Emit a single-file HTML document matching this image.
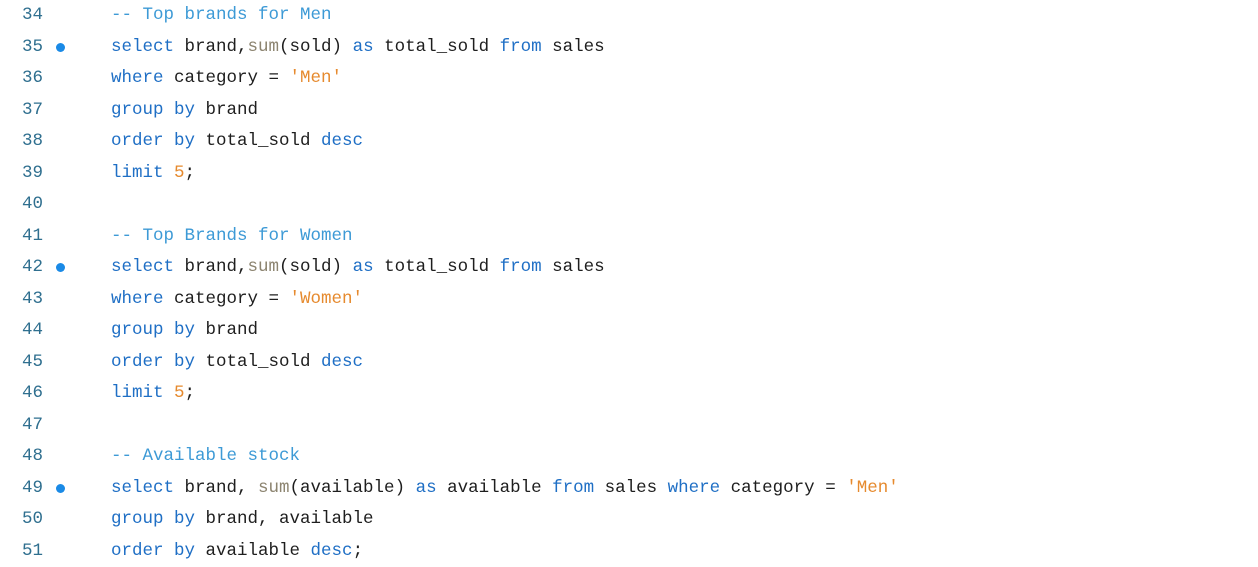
<!DOCTYPE html>
<html><head><style>
body{margin:0;width:1258px;height:567px;background:#fff;overflow:hidden;font-family:"Liberation Mono",monospace;font-size:17.5px;}
.l{position:absolute;left:0;height:31.5px;line-height:31.5px;white-space:pre;}
.n{position:absolute;left:22px;color:#2f6f8f;}
.c{position:absolute;left:111px;color:#1e1e1e;}
.d{position:absolute;left:56px;top:11px;width:9px;height:9px;border-radius:50%;background:#1a8ae6;}
.k{color:#1f6fc5;}
.cm{color:#3d9ad6;}
.f{color:#8c8470;}
.s{color:#e68a2e;}
</style></head><body>
<div class="l" style="top:0px"><span class="n">34</span><span class="c"><span class="cm">-- Top brands for Men</span></span></div>
<div class="l" style="top:31.5px"><span class="n">35</span><span class="d"></span><span class="c"><span class="k">select</span> brand,<span class="f">sum</span>(sold) <span class="k">as</span> total_sold <span class="k">from</span> sales</span></div>
<div class="l" style="top:63px"><span class="n">36</span><span class="c"><span class="k">where</span> category = <span class="s">'Men'</span></span></div>
<div class="l" style="top:94.5px"><span class="n">37</span><span class="c"><span class="k">group by</span> brand</span></div>
<div class="l" style="top:126px"><span class="n">38</span><span class="c"><span class="k">order by</span> total_sold <span class="k">desc</span></span></div>
<div class="l" style="top:157.5px"><span class="n">39</span><span class="c"><span class="k">limit</span> <span class="s">5</span>;</span></div>
<div class="l" style="top:189px"><span class="n">40</span></div>
<div class="l" style="top:220.5px"><span class="n">41</span><span class="c"><span class="cm">-- Top Brands for Women</span></span></div>
<div class="l" style="top:252px"><span class="n">42</span><span class="d"></span><span class="c"><span class="k">select</span> brand,<span class="f">sum</span>(sold) <span class="k">as</span> total_sold <span class="k">from</span> sales</span></div>
<div class="l" style="top:283.5px"><span class="n">43</span><span class="c"><span class="k">where</span> category = <span class="s">'Women'</span></span></div>
<div class="l" style="top:315px"><span class="n">44</span><span class="c"><span class="k">group by</span> brand</span></div>
<div class="l" style="top:346.5px"><span class="n">45</span><span class="c"><span class="k">order by</span> total_sold <span class="k">desc</span></span></div>
<div class="l" style="top:378px"><span class="n">46</span><span class="c"><span class="k">limit</span> <span class="s">5</span>;</span></div>
<div class="l" style="top:409.5px"><span class="n">47</span></div>
<div class="l" style="top:441px"><span class="n">48</span><span class="c"><span class="cm">-- Available stock</span></span></div>
<div class="l" style="top:472.5px"><span class="n">49</span><span class="d"></span><span class="c"><span class="k">select</span> brand, <span class="f">sum</span>(available) <span class="k">as</span> available <span class="k">from</span> sales <span class="k">where</span> category = <span class="s">'Men'</span></span></div>
<div class="l" style="top:504px"><span class="n">50</span><span class="c"><span class="k">group by</span> brand, available</span></div>
<div class="l" style="top:535.5px"><span class="n">51</span><span class="c"><span class="k">order by</span> available <span class="k">desc</span>;</span></div>
</body></html>
